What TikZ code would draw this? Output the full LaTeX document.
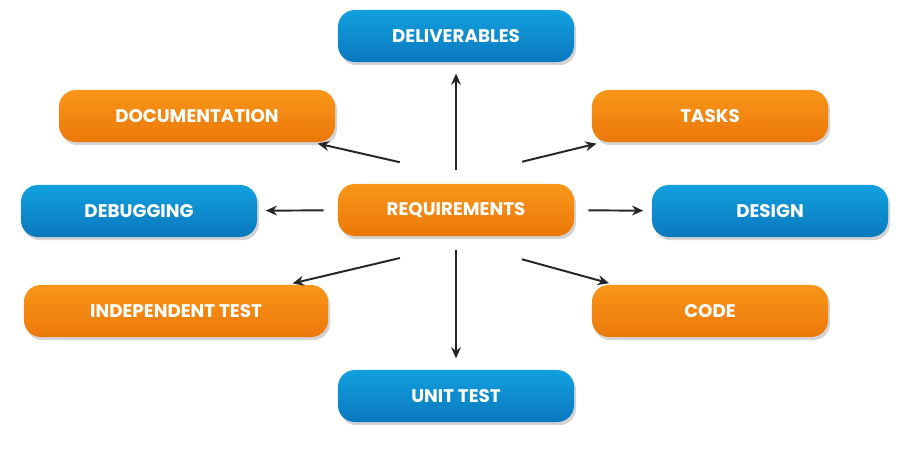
\documentclass[tikz,border=0pt]{standalone}
\usepackage{fontspec}
\setmainfont{Poppins}
\usetikzlibrary{arrows.meta,shadows}
\definecolor{niceblue}{RGB}{18, 160, 222}
\definecolor{darkblue}{RGB}{10, 120, 190}
\definecolor{niceorange}{RGB}{250, 150, 25}
\definecolor{darkorange}{RGB}{235, 120, 10}

\begin{document}
\begin{tikzpicture}[x=0.025cm, y=-0.025cm,
  box/.style = {rounded corners=12pt, minimum width=5.9cm, minimum height=1.3cm,
    font=\fontsize{13}{15}\selectfont\bfseries, text=white,
    drop shadow={shadow xshift=0.5mm, shadow yshift=-0.8mm, opacity=0.35}},
  bluebox/.style = {box, top color=niceblue, bottom color=darkblue},
  orangebox/.style = {box, top color=niceorange, bottom color=darkorange},
  link/.style = {draw=black!85, line width=1.4pt, -{Stealth[length=8pt,width=7pt]}}]
			\useasboundingbox (0,0) rectangle (916,451);
			\node (req) at (456,210) [orangebox] {REQUIREMENTS};
			\node (deliv) at (456,36) [bluebox] {DELIVERABLES};
			\node (doc) at (197,116) [orangebox, minimum width=6.9cm] {DOCUMENTATION};
			\node (tasks) at (710,116) [orangebox] {TASKS};
			\node (debug) at (139,211) [bluebox] {DEBUGGING};
			\node (design) at (770,211) [bluebox] {DESIGN};
			\node (indep) at (176,311) [orangebox, minimum width=7.6cm] {INDEPENDENT TEST};
			\node (code) at (710,311) [orangebox] {CODE};
			\node (unit) at (456,396) [bluebox] {UNIT TEST};
			\draw[link, shorten <=10pt, shorten >=8pt] (req) -- (deliv);
			\draw[link, shorten <=24pt, shorten >=4pt] (req.north west) ++(95,-14) coordinate (r1) (r1) -- (doc);
			\draw[link, shorten <=24pt, shorten >=4pt] (req.north east) ++(-85,-14) coordinate (r2) (r2) -- (tasks);
			\draw[link, shorten <=10pt, shorten >=6pt] (req) -- (debug);
			\draw[link, shorten <=10pt, shorten >=6pt] (req) -- (design);
			\draw[link, shorten <=24pt, shorten >=4pt] (req.south west) ++(95,14) coordinate (r3) (r3) -- (indep);
			\draw[link, shorten <=24pt, shorten >=4pt] (req.south east) ++(-85,14) coordinate (r4) (r4) -- (code);
			\draw[link, shorten <=10pt, shorten >=8pt] (req) -- (unit);
\end{tikzpicture}
\end{document}
